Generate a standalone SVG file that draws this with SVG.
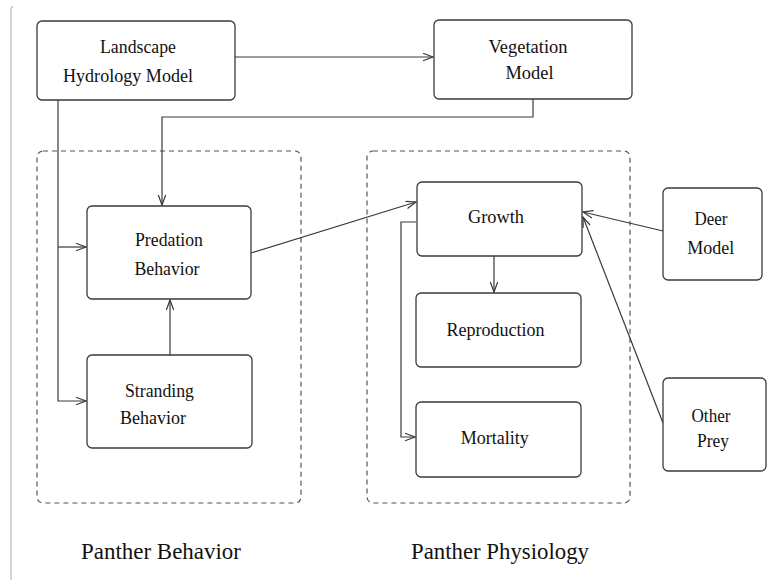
<svg xmlns="http://www.w3.org/2000/svg" width="768" height="580" viewBox="0 0 768 580">
<style>
.box{fill:#fff;stroke:#3a3a3a;stroke-width:1.3}
.grp{fill:none;stroke:#555;stroke-width:1.2;stroke-dasharray:5,4}
.c{fill:none;stroke:#3a3a3a;stroke-width:1.2}
</style>
<defs>
<marker id="ah" markerUnits="userSpaceOnUse" markerWidth="12" markerHeight="10" refX="11" refY="4.5" orient="auto">
<path d="M1,0.8 L11,4.5 L1,8.2" fill="none" stroke="#3a3a3a" stroke-width="1.2"/>
</marker>
</defs>
<rect width="768" height="580" fill="#fff"/>
<path d="M11,580 V9 Q11,6.5 13.5,6.5" fill="none" stroke="#aaa" stroke-width="1"/>
<g font-family="'Liberation Serif', 'Noto Serif', 'Nimbus Roman', 'Nimbus Roman No9 L', FreeSerif, Tinos, 'TeX Gyre Termes', 'DejaVu Serif', serif" fill="#111" text-anchor="middle">
<g id="panther-behavior">
<rect class="grp" x="37" y="151" width="264" height="352" rx="6"/>
<text font-size="23" x="161" y="559" textLength="160" lengthAdjust="spacingAndGlyphs">Panther Behavior</text>
</g>
<g id="panther-physiology">
<rect class="grp" x="367" y="151" width="263" height="352" rx="6"/>
<text font-size="23" x="500" y="559" textLength="178" lengthAdjust="spacingAndGlyphs">Panther Physiology</text>
</g>
<g id="connectors">
<path class="c" d="M235,57 H433" marker-end="url(#ah)"/>
<path class="c" d="M533,99 V117 H162 V205" marker-end="url(#ah)"/>
<path class="c" d="M58,100 V401 H86" marker-end="url(#ah)"/>
<path class="c" d="M58,247 H86" marker-end="url(#ah)"/>
<path class="c" d="M170,355 V300" marker-end="url(#ah)"/>
<path class="c" d="M251,253 L416,202" marker-end="url(#ah)"/>
<path class="c" d="M494,256 V292" marker-end="url(#ah)"/>
<path class="c" d="M416,222 H401 V437 H415" marker-end="url(#ah)"/>
<path class="c" d="M663,231 L583,212" marker-end="url(#ah)"/>
<path class="c" d="M663,423 L583,217" marker-end="url(#ah)"/>
</g>
<g font-size="18.5">
<g id="landscape">
<rect class="box" x="37" y="21" width="198" height="79" rx="5"/>
<text x="138" y="53" textLength="76" lengthAdjust="spacingAndGlyphs">Landscape</text>
<text x="128" y="82" textLength="130" lengthAdjust="spacingAndGlyphs">Hydrology Model</text>
</g>
<g id="vegetation">
<rect class="box" x="434" y="20" width="198" height="79" rx="5"/>
<text x="528" y="53" textLength="79" lengthAdjust="spacingAndGlyphs">Vegetation</text>
<text x="529.5" y="79" textLength="48" lengthAdjust="spacingAndGlyphs">Model</text>
</g>
<g id="predation">
<rect class="box" x="87" y="206" width="164" height="93" rx="5"/>
<text x="169" y="246" textLength="68" lengthAdjust="spacingAndGlyphs">Predation</text>
<text x="167" y="275" textLength="65" lengthAdjust="spacingAndGlyphs">Behavior</text>
</g>
<g id="stranding">
<rect class="box" x="87" y="355" width="165" height="93" rx="5"/>
<text x="159.5" y="397" textLength="69" lengthAdjust="spacingAndGlyphs">Stranding</text>
<text x="153" y="424" textLength="66" lengthAdjust="spacingAndGlyphs">Behavior</text>
</g>
<g id="growth">
<rect class="box" x="417" y="182" width="165" height="74" rx="5"/>
<text x="496" y="223" textLength="56" lengthAdjust="spacingAndGlyphs">Growth</text>
</g>
<g id="reproduction">
<rect class="box" x="416" y="293" width="165" height="74" rx="5"/>
<text x="495.5" y="336" textLength="98" lengthAdjust="spacingAndGlyphs">Reproduction</text>
</g>
<g id="mortality">
<rect class="box" x="416" y="402" width="165" height="75" rx="5"/>
<text x="494.7" y="444" textLength="68" lengthAdjust="spacingAndGlyphs">Mortality</text>
</g>
<g id="deer">
<rect class="box" x="663" y="188" width="99" height="92" rx="5"/>
<text x="711" y="225" textLength="33" lengthAdjust="spacingAndGlyphs">Deer</text>
<text x="710.7" y="254" textLength="47" lengthAdjust="spacingAndGlyphs">Model</text>
</g>
<g id="other-prey">
<rect class="box" x="663" y="378" width="103" height="93" rx="5"/>
<text x="711" y="422" textLength="39" lengthAdjust="spacingAndGlyphs">Other</text>
<text x="713" y="447" textLength="32" lengthAdjust="spacingAndGlyphs">Prey</text>
</g>
</g>
</g>
</svg>
